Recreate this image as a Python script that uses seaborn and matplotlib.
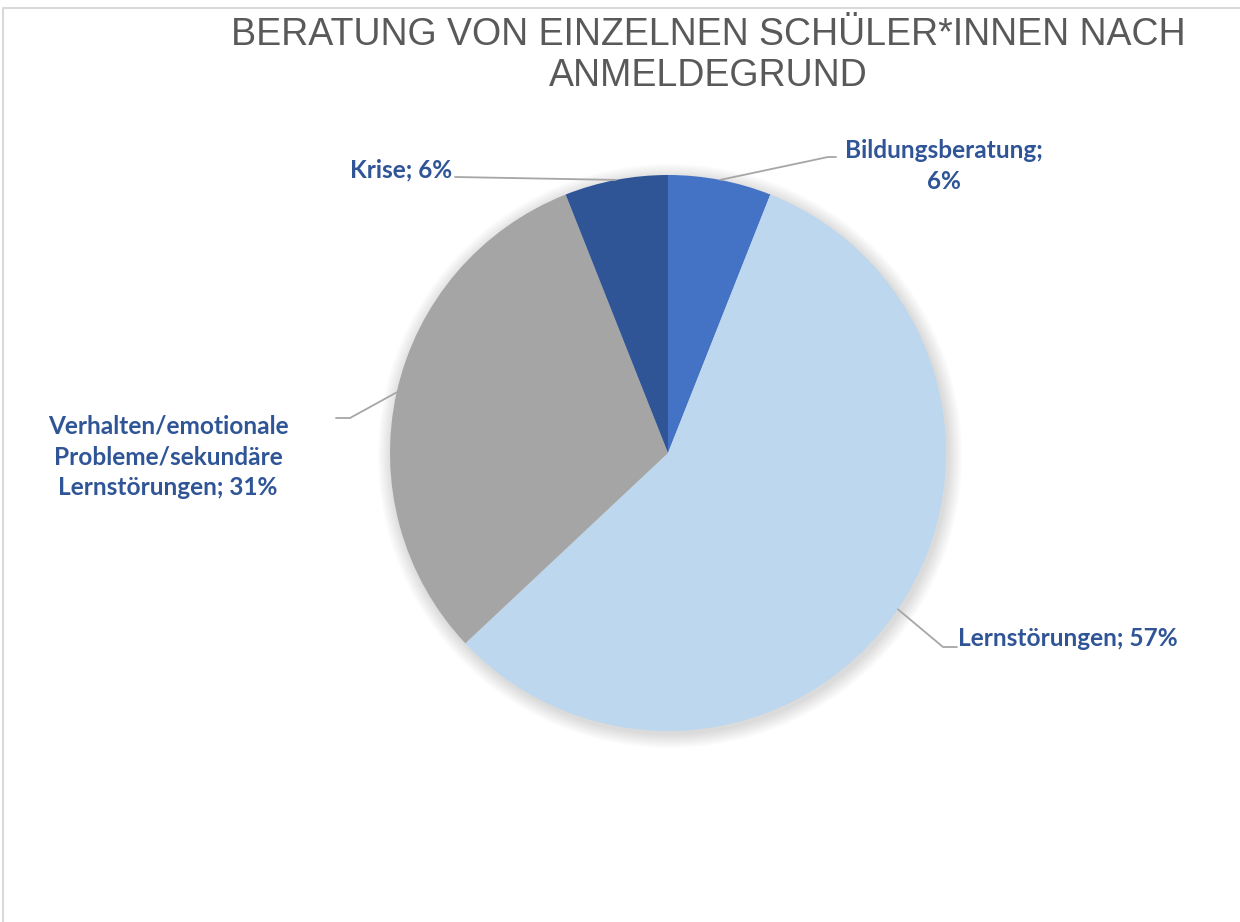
import numpy as np
import seaborn as sns
import matplotlib.pyplot as plt
from matplotlib import font_manager
from matplotlib.patches import Circle

# Data
categories = ['Bildungsberatung', 'Lernstörungen',
              'Verhalten/emotionale\nProbleme/sekundäre\nLernstörungen', 'Krise']
shares = [6, 57, 31, 6]
colors = ['#4472C4', '#BDD7EE', '#A5A5A5', '#2F5597']

sns.set_theme(style='white')
names = {f.name for f in font_manager.fontManager.ttflist}
title_font = 'Liberation Sans Narrow' if 'Liberation Sans Narrow' in names else 'Liberation Sans'
label_font = 'Lato'

fig = plt.figure(figsize=(12.4, 9.22), dpi=100)
ax = fig.add_axes([0, 0, 1, 1])
ax.set_aspect('equal')

cx, cy, r = 668, 469, 278

# soft shadow around the pie
for i in range(12):
    ax.add_patch(Circle((cx + 2, cy - 3), r + 1 + i * 1.2, color='black',
                        alpha=0.012, lw=0, zorder=0))

wedges, _ = ax.pie(shares, colors=colors, startangle=90, counterclock=False,
                   center=(cx, cy), radius=r, frame=True,
                   wedgeprops=dict(linewidth=0))
ax.set_xlim(0, 1240)
ax.set_ylim(0, 922)
ax.axis('off')

# label placement: elbow point, end of line, text anchor, alignment
layout = [
    dict(elbow=(828, 765), end=(836, 765), text=(944, 756), ha='center',
         label='Bildungsberatung;\n6%'),
    dict(elbow=(943, 275), end=(957, 275), text=(958, 284), ha='left',
         label='Lernstörungen; 57%'),
    dict(elbow=(350, 504), end=(336, 504), text=(168, 465), ha='center',
         label='Verhalten/emotionale\nProbleme/sekundäre\nLernstörungen; 31%'),
    dict(elbow=(455, 745), end=(455, 745), text=(452, 752), ha='right',
         label='Krise; 6%'),
]

for w, share, spec in zip(wedges, shares, layout):
    ang = np.deg2rad((w.theta1 + w.theta2) / 2)
    ex, ey = cx + r * np.cos(ang), cy + r * np.sin(ang)
    xs = [ex, spec['elbow'][0], spec['end'][0]]
    ys = [ey, spec['elbow'][1], spec['end'][1]]
    ax.plot(xs, ys, color='#A6A6A6', lw=1.3, zorder=3)
    ax.text(spec['text'][0], spec['text'][1], spec['label'], ha=spec['ha'],
            va='center', fontsize=17.6, fontweight='bold', color='#2F5597',
            family=label_font, linespacing=1.42)

fig.text(0.571, 0.982, 'BERATUNG VON EINZELNEN SCHÜLER*INNEN NACH\nANMELDEGRUND',
         ha='center', va='top', fontsize=27, color='#595959',
         family=title_font, linespacing=1.18)

# chart frame (left and top edge visible)
ax.plot([3, 3, 1240], [0, 914, 914], color='#D9D9D9', lw=1.5, clip_on=False)

fig.savefig('out.png', dpi=100)
